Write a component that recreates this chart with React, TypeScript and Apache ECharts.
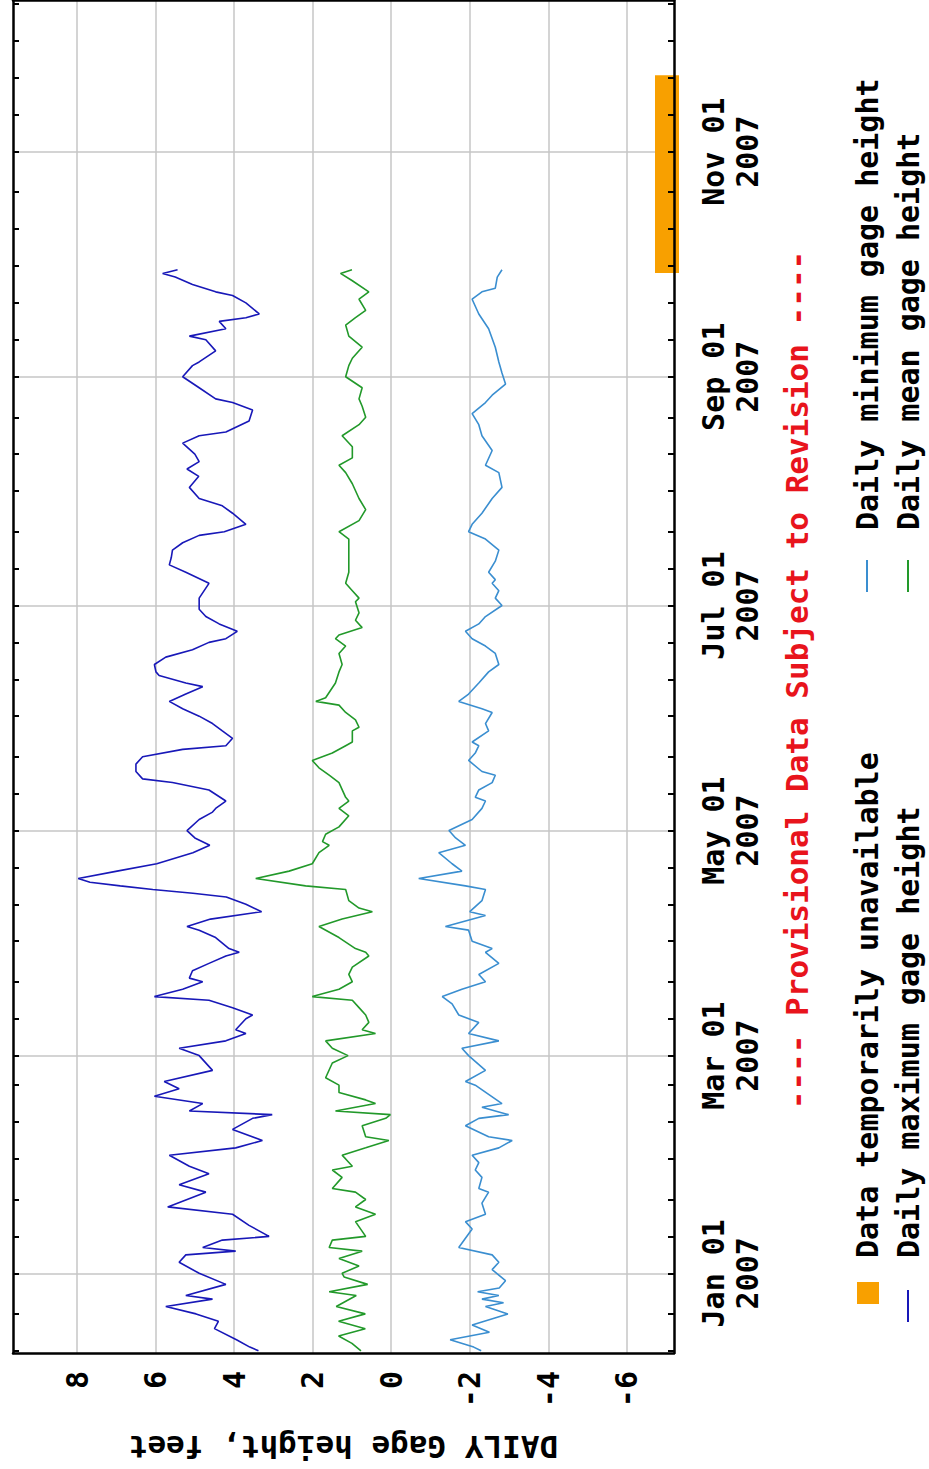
import React, { useEffect, useRef } from "react";
import * as echarts from "echarts";

// ---- data (day offset from 2007-01-01, gage height in feet) ----
const maxGage: [number, number][] = [
  [-21,3.38],[-20,3.6],[-18,3.94],[-15,4.5],[-13,4.4],[-11,4.97],[-9,5.74],[-7,4.55],[-6,5.23],[-3,4.21],[0,4.89],[3,5.4],[5,5.23],[6,3.96],[7,4.8],[9,4.3],[10,3.11],[13,3.62],[16,4.04],[18,5.69],[22,4.72],[24,5.4],[27,4.64],[29,5.14],[32,5.65],[34,3.96],[36,3.28],[39,4.04],[42,3.53],[43,3.03],[44,5.14],[46,4.8],[48,6.03],[50,5.4],[52,5.78],[55,4.55],[59,4.89],[61,5.4],[63,4.21],[65,3.7],[66,3.96],[69,3.7],[70,3.53],[72,4.04],[74,4.64],[75,6.03],[77,5.31],[79,4.8],[80,5.14],[82,5.06],[84,4.64],[86,4.21],[87,3.87],[88,4.13],[91,4.47],[93,4.89],[94,5.2],[96,4.6],[98,3.3],[100,3.7],[102,4.2],[103,5.05],[104,6.07],[105,6.9],[106,7.67],[107,7.97],[109,6.98],[111,5.97],[114,5.05],[116,4.62],[118,5.0],[120,5.2],[123,4.89],[125,4.55],[126,4.47],[128,4.21],[131,4.64],[133,5.57],[134,6.33],[136,6.5],[138,6.5],[140,6.33],[142,5.31],[143,4.21],[145,4.04],[147,4.3],[149,4.55],[151,4.89],[153,5.31],[155,5.65],[157,5.23],[159,4.8],[160,5.23],[162,5.91],[163,5.99],[165,6.03],[167,5.74],[169,5.06],[171,4.64],[172,4.21],[174,3.92],[176,4.38],[178,4.72],[180,4.89],[183,4.89],[187,4.64],[190,5.23],[192,5.65],[194,5.6],[196,5.57],[198,5.31],[200,4.89],[201,4.25],[203,3.7],[206,4.04],[208,4.3],[210,4.89],[213,5.14],[216,4.9],[218,5.2],[220,4.89],[222,5.0],[225,5.31],[227,4.89],[228,4.21],[231,3.62],[234,3.53],[236,4.04],[237,4.47],[240,4.89],[243,5.31],[246,5.06],[247,4.89],[250,4.47],[253,4.72],[254,5.14],[256,4.21],[258,4.38],[259,3.7],[260,3.36],[263,3.7],[265,4.04],[266,4.47],[268,5.06],[270,5.5],[271,5.82],[272,5.44]
];

const meanGage: [number, number][] = [
  [-21,0.77],[-19,1.0],[-17,1.34],[-15,0.66],[-13,1.34],[-11,0.66],[-9,1.4],[-6,0.89],[-5,1.58],[-3,0.6],[-1,1.2],[0,1.25],[2,0.82],[4,1.33],[6,0.74],[7,1.58],[9,1.5],[10,0.65],[14,0.91],[16,0.4],[18,0.91],[20,0.65],[22,0.91],[23,1.5],[26,1.25],[28,1.5],[29,0.99],[31,1.16],[32,1.25],[34,0.65],[36,0.06],[37,0.65],[40,0.74],[42,0.14],[43,0.02],[44,1.42],[46,0.4],[47,0.65],[49,1.33],[51,1.33],[53,1.67],[57,1.5],[59,1.1],[61,1.5],[63,1.67],[65,0.4],[66,0.74],[68,0.57],[70,0.65],[72,0.82],[74,0.99],[75,2.01],[77,1.33],[79,0.99],[81,1.08],[83,0.99],[86,0.57],[87,0.65],[88,0.91],[91,1.33],[94,1.84],[96,1.25],[98,0.48],[99,0.82],[101,1.08],[104,1.16],[105,2.18],[107,3.45],[109,2.6],[111,2.01],[114,1.84],[116,1.58],[117,1.75],[119,1.67],[121,1.33],[124,1.08],[126,1.33],[128,1.08],[129,1.16],[133,1.33],[135,1.58],[137,1.84],[139,2.01],[141,1.5],[143,1.16],[144,0.99],[147,0.99],[148,0.82],[150,0.91],[152,1.16],[154,1.33],[155,1.92],[156,1.67],[160,1.42],[163,1.33],[165,1.25],[168,1.33],[170,1.16],[172,1.42],[173,1.33],[175,0.74],[177,0.91],[179,0.82],[182,0.91],[183,0.82],[185,0.99],[187,1.16],[190,1.08],[193,1.08],[196,1.08],[199,1.08],[201,1.33],[204,0.82],[207,0.65],[210,0.82],[214,0.99],[217,1.16],[219,1.33],[221,0.99],[224,0.99],[227,1.25],[230,0.82],[232,0.65],[235,0.74],[237,0.82],[240,0.74],[243,1.16],[246,1.08],[248,0.99],[251,0.74],[254,1.08],[257,1.16],[259,0.91],[261,0.65],[264,0.82],[266,0.57],[269,0.99],[271,1.29],[272,1.0]
];

const minGage: [number, number][] = [
  [-21,-2.29],[-20,-2.1],[-18,-1.5],[-16,-2.5],[-14,-2.06],[-11,-2.97],[-9,-2.4],[-8,-2.86],[-7,-2.31],[-6,-2.74],[-5,-2.2],[-4,-2.75],[-2,-2.91],[1,-2.57],[3,-2.74],[5,-2.57],[7,-1.72],[12,-2.06],[14,-1.89],[16,-2.4],[19,-2.31],[22,-2.48],[23,-2.23],[26,-2.31],[28,-2.14],[30,-2.23],[32,-2.06],[34,-2.74],[36,-3.08],[37,-2.48],[40,-1.89],[42,-2.23],[43,-2.99],[45,-2.31],[46,-2.82],[51,-2.14],[52,-1.89],[55,-2.4],[59,-1.97],[61,-1.8],[63,-2.74],[65,-1.97],[68,-2.23],[70,-1.72],[73,-1.55],[75,-1.3],[77,-1.8],[79,-2.4],[81,-2.23],[84,-2.74],[87,-2.4],[88,-2.57],[90,-2.06],[93,-1.97],[94,-1.38],[97,-2.4],[98,-2.0],[101,-2.31],[104,-2.4],[105,-1.89],[107,-0.7],[109,-1.8],[111,-1.55],[114,-1.21],[116,-1.89],[118,-1.64],[120,-1.47],[123,-2.06],[126,-2.31],[128,-2.4],[129,-2.14],[131,-2.23],[133,-2.57],[135,-2.65],[136,-2.31],[139,-1.97],[141,-2.14],[143,-2.23],[144,-2.06],[147,-2.48],[149,-2.4],[152,-2.57],[153,-2.31],[155,-1.72],[157,-1.97],[160,-2.23],[163,-2.48],[165,-2.74],[168,-2.65],[170,-2.4],[172,-2.06],[174,-1.89],[176,-2.23],[178,-2.4],[181,-2.82],[183,-2.65],[185,-2.74],[187,-2.57],[188,-2.65],[190,-2.48],[193,-2.65],[196,-2.74],[199,-2.4],[201,-1.97],[203,-2.06],[206,-2.31],[210,-2.57],[213,-2.82],[217,-2.74],[219,-2.4],[223,-2.57],[227,-2.31],[230,-2.23],[233,-2.06],[236,-2.4],[238,-2.57],[241,-2.91],[244,-2.82],[247,-2.74],[251,-2.65],[256,-2.48],[260,-2.23],[264,-2.06],[266,-2.31],[267,-2.65],[270,-2.7],[272,-2.82]
];

// data temporarily unavailable (day offsets)
const unavailable: [number, number][] = [[271.1, 324.7]];

// axis ranges and tick values
const DAY_MIN = -21.6;
const DAY_MAX = 345.1;
const GAGE_MIN = -7.2;
const GAGE_MAX = 9.63;
const gageTicks = [-6, -4, -2, 0, 2, 4, 6, 8];
const dateLabels: [number, number][] = [[2007, 0], [2007, 2], [2007, 4], [2007, 6], [2007, 8], [2007, 10]];
const tickMonths: [number, number][] = [
  [2006, 11], [2007, 0], [2007, 1], [2007, 2], [2007, 3], [2007, 4], [2007, 5],
  [2007, 6], [2007, 7], [2007, 8], [2007, 9], [2007, 10], [2007, 11]
];
const tickDaysOfMonth = [1, 11, 21];
const MONTHS = ["Jan", "Feb", "Mar", "Apr", "May", "Jun", "Jul", "Aug", "Sep", "Oct", "Nov", "Dec"];

const legendTexts = {
  unavailable: "Data temporarily unavailable",
  max: "Daily maximum gage height",
  min: "Daily minimum gage height",
  mean: "Daily mean gage height",
};
const PROVISIONAL = "---- Provisional Data Subject to Revision ----";

const COLOR_MAX = "#1818b8";
const COLOR_MEAN = "#22992a";
const COLOR_MIN = "#3a8ed0";
const COLOR_ORANGE = "#f8a000";
const COLOR_GRID = "#c6c6c6";
const FONT = '"DejaVu Sans Mono", "Liberation Mono", monospace';

const START = Date.UTC(2007, 0, 1);
const DAY_MS = 86400000;
const dayOf = (y: number, m: number, d: number) => Math.round((Date.UTC(y, m, d) - START) / DAY_MS);

export default function App() {
  const ref = useRef<HTMLDivElement>(null);

  useEffect(() => {
    if (!ref.current) return;
    const chart = echarts.init(ref.current, undefined, { renderer: "svg" });

    const tickValues: number[] = [];
    tickMonths.forEach(([y, m]) =>
      tickDaysOfMonth.forEach((dd) => {
        const v = dayOf(y, m, dd);
        if (v > DAY_MIN && v < DAY_MAX) tickValues.push(v);
      })
    );
    const labelValues = dateLabels.map(([y, m]) => dayOf(y, m, 1));

    const toSeries = (arr: [number, number][]) => arr.map(([d, v]) => [v, d]);

    const dateFmt = (val: number) => {
      const dt = new Date(START + Math.round(val) * DAY_MS);
      const day = dt.getUTCDate();
      const dd = day < 10 ? "0" + day : "" + day;
      return MONTHS[dt.getUTCMonth()] + " " + dd + "\n" + dt.getUTCFullYear();
    };

    const tickFont = { fontFamily: FONT, fontWeight: "bold" as const, fontSize: 30, color: "#000" };
    const nameFont = { fontFamily: FONT, fontWeight: "bold" as const, fontSize: 31, color: "#000" };
    const txtFont = `bold 31px ${FONT}`;
    const legFont = `bold 30px ${FONT}`;

    const option: any = {
      animation: false,
      backgroundColor: "#fff",
      grid: { left: 13, right: 255, top: 0, bottom: 116, containLabel: false },
      xAxis: [
        {
          type: "value",
          position: "bottom",
          inverse: true,
          min: GAGE_MIN,
          max: GAGE_MAX,
          z: 5,
          name: "DAILY Gage height, feet",
          nameLocation: "middle",
          nameRotate: 180,
          nameGap: 78,
          nameTextStyle: nameFont,
          axisLine: { show: true, onZero: false, lineStyle: { color: "#000", width: 2.5 } },
          axisTick: { show: false },
          splitLine: { show: false },
          axisLabel: {
            customValues: gageTicks,
            rotate: 90,
            margin: 18,
            ...tickFont,
            formatter: (v: number) => String(v),
          },
        },
        {
          type: "value",
          position: "top",
          inverse: true,
          min: GAGE_MIN,
          max: GAGE_MAX,
          z: 5,
          axisLine: { show: true, onZero: false, lineStyle: { color: "#000", width: 2.5 } },
          axisTick: { show: false },
          axisLabel: { show: false },
          splitLine: { show: false },
        },
      ],
      yAxis: [
        {
          type: "value",
          position: "right",
          min: DAY_MIN,
          max: DAY_MAX,
          z: 5,
          axisLine: { show: true, onZero: false, lineStyle: { color: "#000", width: 2.5 } },
          axisTick: { show: true, inside: true, length: 6, customValues: tickValues, lineStyle: { color: "#000", width: 2 } },
          splitLine: { show: false },
          axisLabel: {
            customValues: labelValues,
            rotate: 90,
            margin: 22,
            lineHeight: 34,
            ...tickFont,
            formatter: dateFmt,
          },
        },
        {
          type: "value",
          position: "left",
          min: DAY_MIN,
          max: DAY_MAX,
          z: 5,
          axisLine: { show: true, onZero: false, lineStyle: { color: "#000", width: 2.5 } },
          axisTick: { show: true, inside: true, length: 6, customValues: tickValues, lineStyle: { color: "#000", width: 2 } },
          splitLine: { show: false },
          axisLabel: { show: false },
        },
      ],
      series: [
        {
          type: "custom",
          name: "unavailable",
          xAxisIndex: 0,
          yAxisIndex: 0,
          z: 1.5,
          clip: false,
          encode: { x: 0, y: [1, 2] },
          data: unavailable.map(([a, b]) => [GAGE_MIN, a, b]),
          renderItem: (params: any, api: any) => {
            const p1 = api.coord([GAGE_MIN, api.value(1)]);
            const p2 = api.coord([GAGE_MIN, api.value(2)]);
            const right = p1[0] + 5;
            return {
              type: "rect",
              shape: { x: right - 24, y: p2[1], width: 24, height: p1[1] - p2[1] },
              style: { fill: COLOR_ORANGE },
            };
          },
        },
        {
          type: "line",
          name: legendTexts.max,
          xAxisIndex: 0,
          yAxisIndex: 0,
          z: 2,
          showSymbol: false,
          symbol: "none",
          lineStyle: { color: COLOR_MAX, width: 1.6 },
          itemStyle: { color: COLOR_MAX },
          data: toSeries(maxGage),
        },
        {
          type: "line",
          name: legendTexts.mean,
          xAxisIndex: 0,
          yAxisIndex: 0,
          z: 2,
          showSymbol: false,
          symbol: "none",
          lineStyle: { color: COLOR_MEAN, width: 1.6 },
          itemStyle: { color: COLOR_MEAN },
          data: toSeries(meanGage),
        },
        {
          type: "line",
          name: legendTexts.min,
          xAxisIndex: 0,
          yAxisIndex: 0,
          z: 2,
          showSymbol: false,
          symbol: "none",
          lineStyle: { color: COLOR_MIN, width: 1.6 },
          itemStyle: { color: COLOR_MIN },
          data: toSeries(minGage),
          markLine: {
            silent: true,
            z: 1,
            symbol: ["none", "none"],
            label: { show: false },
            lineStyle: { color: COLOR_GRID, width: 1.5, type: "solid" },
            emphasis: { disabled: true },
            data: [
              ...gageTicks.map((v) => ({ xAxis: v })),
              ...labelValues.map((t) => ({ yAxis: t })),
            ],
          },
        },
      ],
      graphic: [
        {
          type: "text",
          x: 797,
          y: 680,
          rotation: Math.PI / 2,
          style: { text: PROVISIONAL, font: txtFont, fill: "#e8141c", align: "center", verticalAlign: "middle" },
        },
        { type: "rect", shape: { x: 857, y: 1282, width: 22, height: 22 }, style: { fill: COLOR_ORANGE } },
        {
          type: "text",
          x: 867,
          y: 1258,
          rotation: Math.PI / 2,
          style: { text: legendTexts.unavailable, font: legFont, fill: "#000", align: "left", verticalAlign: "middle" },
        },
        { type: "line", shape: { x1: 908, y1: 1322, x2: 908, y2: 1290 }, style: { stroke: COLOR_MAX, lineWidth: 2 } },
        {
          type: "text",
          x: 908,
          y: 1258,
          rotation: Math.PI / 2,
          style: { text: legendTexts.max, font: legFont, fill: "#000", align: "left", verticalAlign: "middle" },
        },
        { type: "line", shape: { x1: 867, y1: 592, x2: 867, y2: 560 }, style: { stroke: COLOR_MIN, lineWidth: 2 } },
        {
          type: "text",
          x: 867,
          y: 530,
          rotation: Math.PI / 2,
          style: { text: legendTexts.min, font: legFont, fill: "#000", align: "left", verticalAlign: "middle" },
        },
        { type: "line", shape: { x1: 908, y1: 592, x2: 908, y2: 560 }, style: { stroke: COLOR_MEAN, lineWidth: 2 } },
        {
          type: "text",
          x: 908,
          y: 530,
          rotation: Math.PI / 2,
          style: { text: legendTexts.mean, font: legFont, fill: "#000", align: "left", verticalAlign: "middle" },
        },
      ],
    };

    chart.setOption(option);
    return () => chart.dispose();
  }, []);

  return (
    <div
      ref={ref}
      style={{ position: "absolute", left: 0, top: 0, width: 929, height: 1469, background: "#fff" }}
    />
  );
}
